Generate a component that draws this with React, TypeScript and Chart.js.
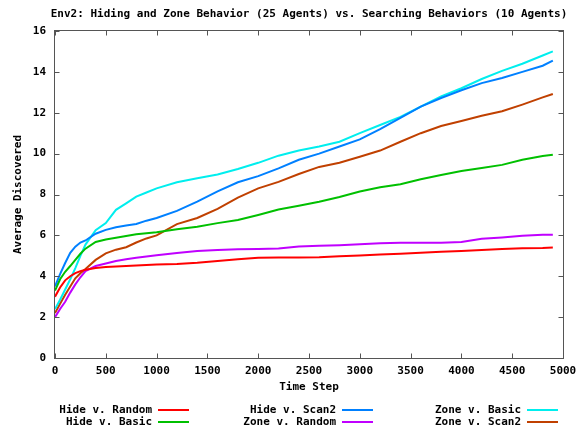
import React, { useEffect, useRef } from "react";
import { Chart, registerables } from "chart.js";
Chart.register(...registerables);

const TIME = [0, 50, 100, 150, 200, 250, 300, 400, 500, 600, 700, 800, 900, 1000, 1200, 1400, 1600, 1800, 2000, 2200, 2400, 2600, 2800, 3000, 3200, 3400, 3600, 3800, 4000, 4200, 4400, 4600, 4800, 4900];

const HIDE_RANDOM = [3.0, 3.45, 3.8, 4.0, 4.15, 4.25, 4.32, 4.4, 4.45, 4.48, 4.5, 4.53, 4.55, 4.57, 4.6, 4.66, 4.75, 4.83, 4.9, 4.92, 4.92, 4.93, 4.98, 5.02, 5.07, 5.1, 5.15, 5.2, 5.24, 5.28, 5.33, 5.37, 5.38, 5.41];
const HIDE_BASIC = [3.3, 3.85, 4.22, 4.5, 4.8, 5.1, 5.35, 5.68, 5.8, 5.88, 5.97, 6.05, 6.1, 6.15, 6.3, 6.42, 6.6, 6.75, 7.0, 7.27, 7.45, 7.65, 7.88, 8.15, 8.35, 8.5, 8.75, 8.95, 9.15, 9.3, 9.45, 9.7, 9.88, 9.95];
const HIDE_SCAN2 = [3.5, 4.1, 4.65, 5.15, 5.45, 5.65, 5.75, 6.08, 6.27, 6.4, 6.48, 6.56, 6.72, 6.85, 7.2, 7.65, 8.15, 8.6, 8.9, 9.28, 9.7, 10.0, 10.35, 10.7, 11.2, 11.75, 12.3, 12.72, 13.1, 13.45, 13.7, 14.0, 14.3, 14.55];
const ZONE_RANDOM = [2.0, 2.4, 2.75, 3.2, 3.6, 3.95, 4.25, 4.5, 4.62, 4.75, 4.83, 4.9, 4.97, 5.03, 5.14, 5.24, 5.29, 5.32, 5.33, 5.36, 5.46, 5.49, 5.52, 5.57, 5.61, 5.64, 5.64, 5.64, 5.68, 5.83, 5.9, 5.98, 6.03, 6.03];
const ZONE_BASIC = [2.4, 2.85, 3.35, 3.85, 4.4, 5.0, 5.55, 6.25, 6.6, 7.25, 7.57, 7.9, 8.1, 8.3, 8.6, 8.8, 8.98, 9.25, 9.55, 9.9, 10.15, 10.35, 10.58, 11.0, 11.4, 11.8, 12.3, 12.8, 13.2, 13.65, 14.05, 14.4, 14.8, 15.0];
const ZONE_SCAN2 = [2.2, 2.65, 3.1, 3.5, 3.9, 4.15, 4.35, 4.8, 5.12, 5.3, 5.42, 5.65, 5.85, 6.0, 6.55, 6.85, 7.3, 7.85, 8.3, 8.62, 9.0, 9.35, 9.55, 9.85, 10.15, 10.58, 11.0, 11.35, 11.6, 11.85, 12.07, 12.4, 12.75, 12.92];

const SERIES_LABELS = ["Hide v. Random", "Hide v. Basic", "Hide v. Scan2", "Zone v. Random", "Zone v. Basic", "Zone v. Scan2"];
const SERIES_VALUES = [HIDE_RANDOM, HIDE_BASIC, HIDE_SCAN2, ZONE_RANDOM, ZONE_BASIC, ZONE_SCAN2];
const COLORS = ["#ff0000", "#00c000", "#0080ff", "#c000ff", "#00eeee", "#c04000"];

const TITLE = "Env2: Hiding and Zone Behavior (25 Agents) vs. Searching Behaviors (10 Agents)";
const X_TITLE = "Time Step";
const Y_TITLE = "Average Discovered";

const FONT_FAMILY = '"DejaVu Sans Mono", "Liberation Mono", monospace';
const FONT = `bold 11px ${FONT_FAMILY}`;

const gnuplotPlugin = {
  id: "gnuplotDecor",
  afterDraw(chart: any) {
    const { ctx, chartArea } = chart;
    const { left, right, top, bottom } = chartArea;
    const xs = chart.scales.x;
    const ys = chart.scales.y;
    ctx.save();
    ctx.strokeStyle = "#555555";
    ctx.lineWidth = 1;
    const L = Math.round(left) - 0.5;
    const R = Math.round(right) + 0.5;
    const T = Math.round(top) - 0.5;
    const B = Math.round(bottom) + 0.5;
    ctx.strokeRect(L, T, R - L, B - T);
    const tl = 5;
    ctx.beginPath();
    xs.ticks.forEach((t: any) => {
      const px = Math.round(xs.getPixelForValue(t.value)) + 0.5;
      ctx.moveTo(px, B);
      ctx.lineTo(px, B - tl);
      ctx.moveTo(px, T);
      ctx.lineTo(px, T + tl);
    });
    ys.ticks.forEach((t: any) => {
      const py = Math.round(ys.getPixelForValue(t.value)) + 0.5;
      ctx.moveTo(L, py);
      ctx.lineTo(L + tl, py);
      ctx.moveTo(R, py);
      ctx.lineTo(R - tl, py);
    });
    ctx.stroke();

    ctx.fillStyle = "#000000";
    ctx.font = FONT;
    ctx.textAlign = "center";
    ctx.textBaseline = "middle";
    ctx.fillText(TITLE, (left + right) / 2, 14);
    ctx.fillText(X_TITLE, (left + right) / 2, 387);
    ctx.save();
    ctx.translate(18, (top + bottom) / 2);
    ctx.rotate(-Math.PI / 2);
    ctx.fillText(Y_TITLE, 0, 0);
    ctx.restore();

    const colEnds = [152, 336, 521];
    const rowYs = [410, 422];
    SERIES_LABELS.forEach((label, i) => {
      const col = Math.floor(i / 2);
      const row = i % 2;
      const xe = colEnds[col];
      const yy = rowYs[row];
      ctx.textAlign = "right";
      ctx.fillStyle = "#000000";
      ctx.fillText(label, xe, yy);
      ctx.strokeStyle = COLORS[i];
      ctx.lineWidth = 2;
      ctx.beginPath();
      ctx.moveTo(xe + 6, yy);
      ctx.lineTo(xe + 37, yy);
      ctx.stroke();
    });
    ctx.restore();
  },
};

export default function App() {
  const canvasRef = useRef<HTMLCanvasElement | null>(null);

  useEffect(() => {
    document.body.style.margin = "0";
    const canvas = canvasRef.current;
    if (!canvas) return;
    const datasets = SERIES_LABELS.map((label, i) => ({
      label,
      data: TIME.map((t, j) => ({ x: t, y: SERIES_VALUES[i][j] })),
      borderColor: COLORS[i],
      backgroundColor: COLORS[i],
      borderWidth: 2,
      pointRadius: 0,
      tension: 0,
      fill: false,
    }));
    const chart = new Chart(canvas, {
      type: "line",
      data: { datasets },
      options: {
        responsive: false,
        animation: false,
        maintainAspectRatio: false,
        layout: { padding: { top: 31, right: 14, left: 0, bottom: 0 } },
        plugins: {
          legend: { display: false },
          title: { display: false },
          tooltip: { enabled: false },
        },
        scales: {
          x: {
            type: "linear",
            min: 0,
            max: 5000,
            grid: { display: false, drawTicks: false },
            border: { display: false },
            ticks: {
              stepSize: 500,
              padding: 7,
              color: "#000000",
              maxRotation: 0,
              autoSkip: false,
              callback: (v: any) => String(v),
              font: { family: FONT_FAMILY, size: 11, weight: "bold" },
            },
            afterFit: (scale: any) => {
              scale.height = 69;
              scale.paddingLeft = 0;
              scale.paddingRight = 0;
            },
          },
          y: {
            type: "linear",
            min: 0,
            max: 16,
            grid: { display: false, drawTicks: false },
            border: { display: false },
            ticks: {
              stepSize: 2,
              padding: 9,
              color: "#000000",
              autoSkip: false,
              callback: (v: any) => String(v),
              font: { family: FONT_FAMILY, size: 11, weight: "bold" },
            },
            afterFit: (scale: any) => {
              scale.width = 55;
              scale.paddingTop = 0;
              scale.paddingBottom = 0;
            },
          },
        },
      },
      plugins: [gnuplotPlugin],
    });
    return () => chart.destroy();
  }, []);

  return (
    <div style={{ width: 577, height: 427 }}>
      <canvas ref={canvasRef} width={577} height={427} style={{ display: "block" }} />
    </div>
  );
}
